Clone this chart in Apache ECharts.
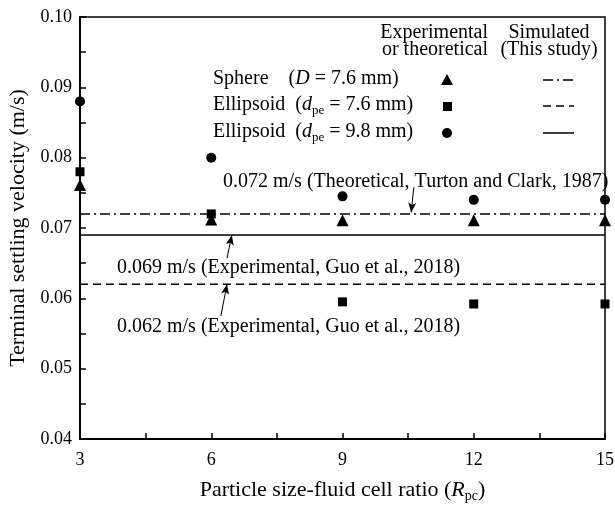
<!DOCTYPE html>
<html>
<head>
<meta charset="utf-8">
<script src="https://cdn.jsdelivr.net/npm/echarts@6/dist/echarts.min.js"></script>
<style>
  html, body { margin: 0; padding: 0; background: #fff; }
  #chart { width: 615px; height: 506px; }
</style>
</head>
<body>
<div id="chart"></div>
<script>
// Particle size-fluid cell ratio (R_pc)
const ratios = [3, 6, 9, 12, 15];

// Experimental / theoretical terminal settling velocities (m/s)
const sphereD76 = [0.0761, 0.0712, 0.0711, 0.0711, 0.0711];
const ellipsoidDpe76 = [0.0780, 0.0720, 0.0595, 0.0592, 0.0592];
const ellipsoidDpe98 = [0.0880, 0.0800, 0.0745, 0.0740, 0.0740];

// Simulated terminal settling velocities (m/s)
const simSphere = 0.072;
const simEllipsoid76 = 0.062;
const simEllipsoid98 = 0.069;

const yTicks = [0.04, 0.05, 0.06, 0.07, 0.08, 0.09, 0.10];

const FONT = '"Liberation Serif", "Times New Roman", serif';

function pairs(ys) { return ratios.map((x, i) => [x, ys[i]]); }
function flat(v) { return [[ratios[0], v], [ratios[ratios.length - 1], v]]; }

const chart = echarts.init(document.getElementById('chart'), null, { renderer: 'canvas' });

const subRich = {
  i: { fontFamily: FONT, fontSize: 20, fontStyle: 'italic', color: '#000', lineHeight: 24, verticalAlign: 'middle' },
  n: { fontFamily: FONT, fontSize: 20, color: '#000', lineHeight: 24 },
  sub: { fontFamily: FONT, fontSize: 13, color: '#000', lineHeight: 12, verticalAlign: 'bottom' }
};

function legendText(x, y, str) {
  return { type: 'text', left: x, top: y, silent: true,
    style: { text: str, rich: subRich, fill: '#000', font: '20px ' + FONT } };
}
function plainText(x, y, str, align) {
  return { type: 'text', x: x, y: y, silent: true,
    style: { text: str, fill: '#000', font: '20px ' + FONT, textAlign: align || 'left', textVerticalAlign: 'middle' } };
}
function legendLine(y, dash) {
  return { type: 'line', silent: true, shape: { x1: 543, y1: y, x2: 574, y2: y },
    style: { stroke: '#000', lineWidth: 1.5, lineDash: dash } };
}

const markerStyle = { color: '#000', opacity: 1 };
const arrowLine = { color: '#000', width: 1, type: 'solid', opacity: 1 };

chart.setOption({
  animation: false,
  backgroundColor: '#fff',
  grid: { left: 80, right: 10, top: 17, bottom: 67, show: true, borderColor: '#000', borderWidth: 1.5,
    containLabel: false, outerBoundsMode: 'none' },
  xAxis: {
    type: 'value', min: 3, max: 15, interval: 3,
    name: '{n|Particle size-fluid cell ratio (}{i|R}{sub|pc}{n|)}',
    nameLocation: 'middle', nameGap: 38,
    nameTextStyle: { rich: {
      n: { fontFamily: FONT, fontSize: 22, color: '#000', lineHeight: 26 },
      i: { fontFamily: FONT, fontSize: 22, fontStyle: 'italic', color: '#000', lineHeight: 26 },
      sub: { fontFamily: FONT, fontSize: 14, color: '#000', lineHeight: 13, verticalAlign: 'bottom' } } },
    axisLine: { lineStyle: { color: '#000', width: 2 } },
    axisTick: { inside: true, length: 6, lineStyle: { color: '#000', width: 1.5 } },
    minorTick: { show: true, splitNumber: 2, length: 6, lineStyle: { color: '#000', width: 1.5 } },
    axisLabel: { fontFamily: FONT, fontSize: 18, color: '#000', margin: 12 },
    splitLine: { show: false }
  },
  yAxis: {
    type: 'value', min: yTicks[0], max: yTicks[yTicks.length - 1], interval: 0.01,
    name: 'Terminal settling velocity (m/s)',
    nameLocation: 'middle', nameGap: 41,
    nameTextStyle: { fontFamily: FONT, fontSize: 22, color: '#000' },
    axisLine: { lineStyle: { color: '#000', width: 2 } },
    axisTick: { inside: true, length: 6, lineStyle: { color: '#000', width: 1.5 } },
    minorTick: { show: true, splitNumber: 2, length: 6, lineStyle: { color: '#000', width: 1.5 } },
    axisLabel: { fontFamily: FONT, fontSize: 18, color: '#000', margin: 8, formatter: v => v.toFixed(2) },
    splitLine: { show: false }
  },
  series: [
    { name: 'Sphere sim', type: 'line', data: flat(simSphere), symbol: 'none', silent: true,
      lineStyle: { color: '#000', width: 1.5, type: [10, 4, 2, 4] }, z: 2 },
    { name: 'Ellipsoid 7.6 sim', type: 'line', data: flat(simEllipsoid76), symbol: 'none', silent: true,
      lineStyle: { color: '#000', width: 1.5, type: [8, 5] }, z: 2 },
    { name: 'Ellipsoid 9.8 sim', type: 'line', data: flat(simEllipsoid98), symbol: 'none', silent: true,
      lineStyle: { color: '#000', width: 1.5, type: 'solid' }, z: 2,
      markLine: {
        silent: true, symbol: ['none', 'arrow'], symbolSize: [6, 10], label: { show: false },
        lineStyle: arrowLine, itemStyle: { color: '#000' },
        data: [
          [{ coord: [10.63, 0.0758] }, { coord: [10.57, 0.0722] }],
          [{ coord: [6.36, 0.0657] }, { coord: [6.47, 0.0690] }],
          [{ coord: [6.22, 0.0575] }, { coord: [6.36, 0.0620] }]
        ]
      } },
    { name: 'Sphere (D = 7.6 mm)', type: 'scatter', data: pairs(sphereD76), symbol: 'triangle', symbolSize: 12, itemStyle: markerStyle, z: 5 },
    { name: 'Ellipsoid (dpe = 7.6 mm)', type: 'scatter', data: pairs(ellipsoidDpe76), symbol: 'rect', symbolSize: 9, itemStyle: markerStyle, z: 5 },
    { name: 'Ellipsoid (dpe = 9.8 mm)', type: 'scatter', data: pairs(ellipsoidDpe98), symbol: 'circle', symbolSize: 10, itemStyle: markerStyle, z: 5 }
  ],
  graphic: [
    plainText(488, 33, 'Experimental', 'right'),
    plainText(488, 50, 'or theoretical', 'right'),
    plainText(549, 33, 'Simulated', 'center'),
    plainText(549, 50, '(This study)', 'center'),
    legendText(213, 69, '{n|Sphere    (}{i|D}{n| = 7.6 mm)}'),
    legendText(213, 95, '{n|Ellipsoid  (}{i|d}{sub|pe}{n| = 7.6 mm)}'),
    legendText(213, 122, '{n|Ellipsoid  (}{i|d}{sub|pe}{n| = 9.8 mm)}'),
    { type: 'polygon', silent: true, shape: { points: [[447, 74], [441, 85], [453, 85]] }, style: { fill: '#000' } },
    { type: 'rect', silent: true, shape: { x: 443, y: 102, width: 9, height: 9 }, style: { fill: '#000' } },
    { type: 'circle', silent: true, shape: { cx: 447, cy: 133, r: 5 }, style: { fill: '#000' } },
    legendLine(80, [10, 4, 2, 4]),
    legendLine(106, [8, 5]),
    legendLine(133, []),
    plainText(223, 182, '0.072 m/s (Theoretical, Turton and Clark, 1987)'),
    plainText(117, 268, '0.069 m/s (Experimental, Guo et al., 2018)'),
    plainText(117, 327, '0.062 m/s (Experimental, Guo et al., 2018)')
  ]
});
</script>
</body>
</html>
